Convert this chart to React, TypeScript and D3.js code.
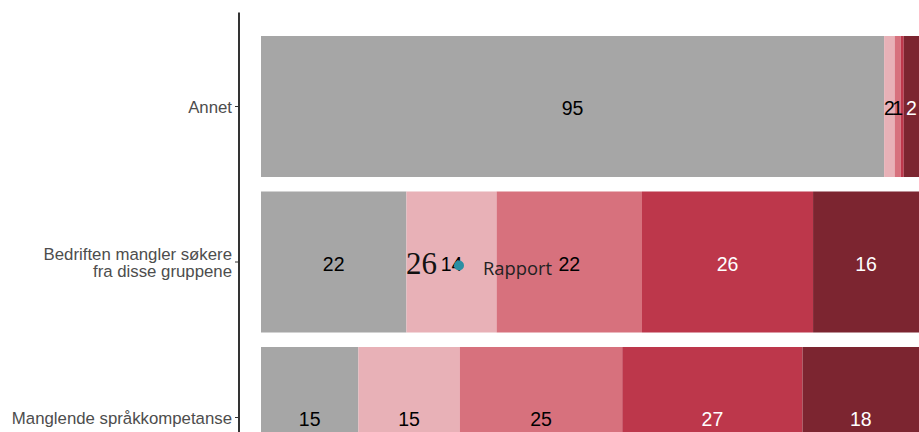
import React from "react";
import * as d3 from "d3";

const categories = [
  "Annet",
  "Bedriften mangler søkere\nfra disse gruppene",
  "Manglende språkkompetanse",
];
const seriesNames = ["s1", "s2", "s3", "s4", "s5"];
const seriesColors = ["#a6a6a6", "#e8b1b7", "#d7717d", "#bd374b", "#7c2530"];
const labelColors = ["#000000", "#000000", "#000000", "#ffffff", "#ffffff"];
const values: number[][] = [
  [94.7, 1.6, 0.9, 0.48, 2.32],
  [22.1, 13.7, 22.1, 26.0, 16.1],
  [14.8, 15.4, 24.7, 27.4, 17.7],
];

const W = 919;
const H = 432;

export default function App() {
  const x = d3.scaleLinear().domain([0, 100]).range([261, 919]);
  const y = d3
    .scaleBand<string>()
    .domain(categories)
    .range([28.75, 495.25])
    .paddingInner(0.0932)
    .paddingOuter(0.0466);

  const rows = categories.map((c, i) => {
    const stackData = [Object.fromEntries(seriesNames.map((s, j) => [s, values[i][j]]))];
    const st = d3.stack<any>().keys(seriesNames)(stackData as any);
    return st.map((layer, j) => ({ cat: c, j, x0: layer[0][0], x1: layer[0][1], v: values[i][j] }));
  });

  return (
    <div style={{ position: "absolute", left: 0, top: 0 }}>
      <svg width={W} height={H} style={{ display: "block" }}>
        <rect x={0} y={0} width={W} height={H} fill="#ffffff" />
        {rows.map((segs) =>
          segs.map((s) => (
            <rect
              key={s.cat + s.j}
              x={x(s.x0)}
              y={y(s.cat)}
              width={x(s.x1) - x(s.x0)}
              height={y.bandwidth()}
              fill={seriesColors[s.j]}
            />
          ))
        )}
        {rows.map((segs) =>
          segs.map((s) =>
            s.v >= 0.5 ? (
              <text
                key={"l" + s.cat + s.j}
                x={(x(s.x0) + x(s.x1)) / 2}
                y={(y(s.cat) as number) + y.bandwidth() / 2}
                dy="0.45em"
                textAnchor="middle"
                fontFamily="Liberation Sans, Arial, sans-serif"
                fontSize={19.5}
                fill={labelColors[s.j]}
              >
                {Math.round(s.v)}
              </text>
            ) : null
          )
        )}
        <line x1={239} x2={239} y1={12.5} y2={H} stroke="#000" strokeWidth={1.6} />
        {categories.map((c) => {
          const cy = (y(c) as number) + y.bandwidth() / 2;
          const lines = c.split("\n");
          return (
            <g key={"t" + c}>
              <line x1={235} x2={239} y1={cy} y2={cy} stroke="#333" strokeWidth={1} />
              {lines.map((ln, k) => (
                <text
                  key={k}
                  x={232}
                  y={cy + (k - (lines.length - 1) / 2) * 17.5}
                  dy="0.4em"
                  textAnchor="end"
                  fontFamily="Liberation Sans, Arial, sans-serif"
                  fontSize={16.8}
                  fill="#4d4d4d"
                >
                  {ln}
                </text>
              ))}
            </g>
          );
        })}
        <text x={406} y={274} fontFamily="Liberation Serif, serif" fontSize={31} fill="#111">
          26
        </text>
        <circle cx={459} cy={265.5} r={5} fill="#2a8fa3" />
        <text x={483} y={275} fontFamily="Open Sans, sans-serif" fontSize={17.5} fill="#222" textLength={69} lengthAdjust="spacingAndGlyphs">
          Rapport
        </text>
      </svg>
    </div>
  );
}
